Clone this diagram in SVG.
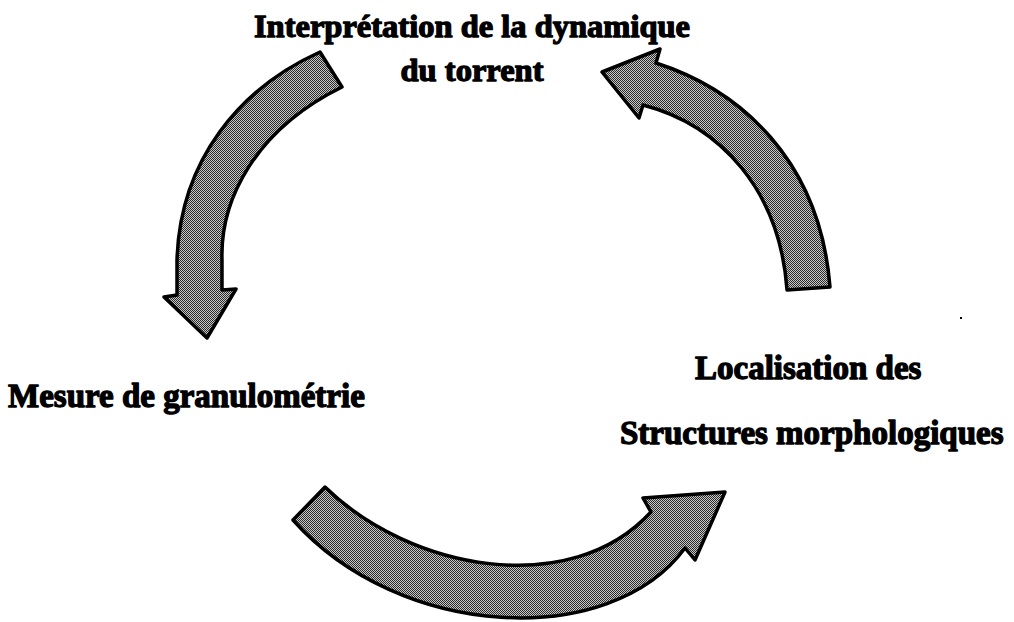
<svg xmlns="http://www.w3.org/2000/svg" width="1014" height="622" viewBox="0 0 1014 622">
<defs>
<pattern id="dither" width="2" height="2" patternUnits="userSpaceOnUse">
<rect x="0" y="0" width="2" height="2" fill="#c8c8c8"/>
<rect x="0" y="0" width="1" height="1" fill="#2a2a2a"/>
<rect x="1" y="1" width="1" height="1" fill="#2a2a2a"/>
</pattern>
<style>
.lbl{font-family:"Liberation Serif","Times New Roman",serif;font-weight:bold;font-size:33px;fill:#000;stroke:#000;stroke-width:1.3px;stroke-linejoin:round;}
.top{font-size:32.5px;}
.arrow{fill:url(#dither);stroke:#000;stroke-width:3.5;stroke-linejoin:round;}
</style>
</defs>
<rect width="1014" height="622" fill="#fff"/>
<g id="connectors">
<path id="arrow-interp-to-mesure" class="arrow" d="M320,52 C240,88 180,160 177,260 L177,295 L164,297 L207,338 L236,289 L222,290 L222,260 C220,200 255,130 342,87 Z"/>
<path id="arrow-mesure-to-local" class="arrow" d="M325,487 C410,570 570,600 651,512 L643,498 L725,492 L695,560 L685,548 C610,650 400,640 293,520 Z"/>
<path id="arrow-local-to-interp" class="arrow" d="M602,72 L660,49 L656,63 C740,90 820,160 830,287 L787,290 C780,190 720,125 643,105 L639,118 Z"/>
</g>
<g id="node-interpretation">
<text class="lbl top" x="472" y="37" text-anchor="middle">Interprétation de la dynamique</text>
<text class="lbl top" x="472" y="81" text-anchor="middle">du torrent</text>
</g>
<g id="node-mesure">
<text class="lbl" x="8" y="407">Mesure de granulométrie</text>
</g>
<g id="node-localisation">
<text class="lbl" x="695" y="379">Localisation des</text>
<text class="lbl" x="620" y="444">Structures morphologiques</text>
</g>
<rect x="960" y="317" width="2" height="2" fill="#000"/>
</svg>
